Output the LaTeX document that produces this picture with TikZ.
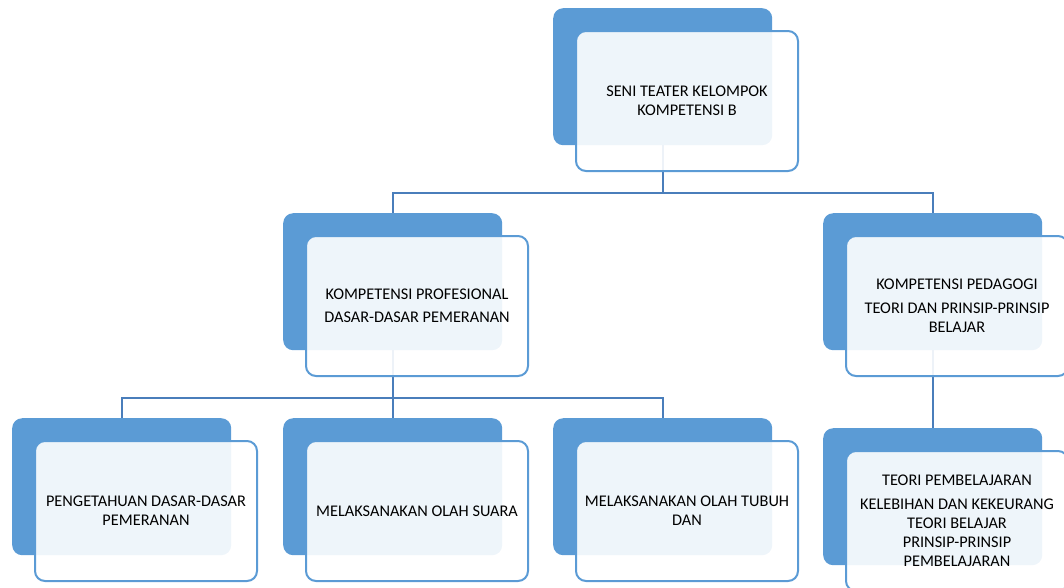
\documentclass[tikz,border=0pt]{standalone}
\usepackage{fontspec}
\setmainfont{Carlito}
\definecolor{smartBlue}{HTML}{5B9BD5}
\definecolor{linkBlue}{RGB}{74,126,187}

\begin{document}
\begin{tikzpicture}[x=1pt, y=-1pt,
  backBox/.style={rectangle, rounded corners=10pt, fill=smartBlue, minimum width=219pt, minimum height=137pt, inner sep=0pt, anchor=north west},
  frontBox/.style={rectangle, rounded corners=10pt, draw=smartBlue, line width=2pt, fill=white, fill opacity=0.9, text opacity=1, minimum width=222pt, minimum height=140pt, inner sep=2pt, anchor=north west, align=center, font=\fontsize{16.3}{19}\selectfont},
  link/.style={draw=linkBlue, line width=2pt}]
\useasboundingbox (0,0) rectangle (1064,587);
% Back boxes (the dark tabs)
\node[backBox] (seniBack) at (553, 8) {};
\node[backBox] (profBack) at (283, 213) {};
\node[backBox] (pedBack) at (823, 213) {};
\node[backBox] (pengBack) at (12, 418) {};
\node[backBox] (suaraBack) at (283, 418) {};
\node[backBox] (tubuhBack) at (553, 418) {};
\node[backBox] (teoriBack) at (823, 428) {};
% Connectors, drawn under the front boxes
\draw[link] (seniBack.south) -- ++(0,48) -| (profBack.north);
\draw[link] (seniBack.south) -- ++(0,48) -| (pedBack.north);
\draw[link] (profBack.south) -- ++(0,48) -| (pengBack.north);
\draw[link] (profBack.south) -- (suaraBack.north);
\draw[link] (profBack.south) -- ++(0,48) -| (tubuhBack.north);
\draw[link] (pedBack.south) -- (teoriBack.north);
% Front boxes with the texts
\node[frontBox] (seni) at ([shift={(22,22)}]seniBack.north west) {SENI TEATER KELOMPOK\\KOMPETENSI B};
\node[frontBox] (prof) at ([shift={(22,22)}]profBack.north west) {KOMPETENSI PROFESIONAL\\[4pt]DASAR-DASAR PEMERANAN};
\node[frontBox] (ped) at ([shift={(22,22)}]pedBack.north west) {KOMPETENSI PEDAGOGI\\[5pt]TEORI DAN PRINSIP-PRINSIP\\BELAJAR};
\node[frontBox] (peng) at ([shift={(22,22)}]pengBack.north west) {PENGETAHUAN DASAR-DASAR\\PEMERANAN};
\node[frontBox] (suara) at ([shift={(22,22)}]suaraBack.north west) {MELAKSANAKAN OLAH SUARA};
\node[frontBox] (tubuh) at ([shift={(22,22)}]tubuhBack.north west) {MELAKSANAKAN OLAH TUBUH\\DAN};
\node[frontBox] (teori) at ([shift={(22,22)}]teoriBack.north west) {TEORI PEMBELAJARAN\\[5pt]KELEBIHAN DAN KEKEURANG\\TEORI BELAJAR\\[0pt]PRINSIP-PRINSIP\\PEMBELAJARAN};
\end{tikzpicture}
\end{document}
